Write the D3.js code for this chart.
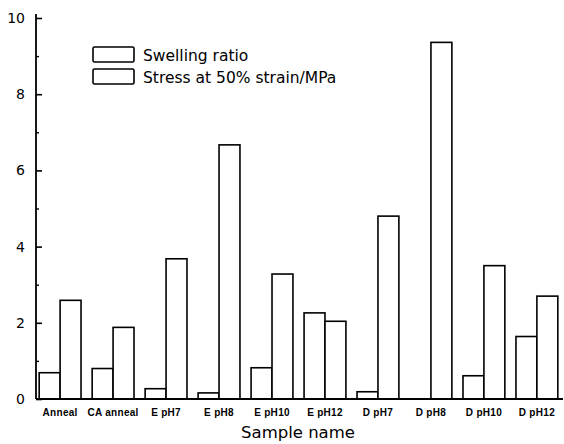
<!DOCTYPE html>
<meta charset="utf-8">
<script src="https://cdn.jsdelivr.net/npm/d3@7"></script>
<style>
    body { margin: 0; background: #fff; }
    .bar { fill: #fff; stroke: #000; stroke-width: 1.6px; }
</style>
<div id="chart"></div>
<script>
    var samples = ["Anneal", "CA anneal", "E pH7", "E pH8", "E pH10", "E pH12",
        "D pH7", "D pH8", "D pH10", "D pH12"];
    var swellingRatio = [0.69, 0.80, 0.27, 0.16, 0.82, 2.26, 0.19, 0.0, 0.61, 1.64];
    var stress = [2.59, 1.88, 3.68, 6.67, 3.28, 2.04, 4.80, 9.36, 3.50, 2.70];
    var seriesNames = ["Swelling ratio", "Stress at 50% strain/MPa"];
    var majorTicks = [0, 2, 4, 6, 8, 10];
    var minorTicks = [1, 3, 5, 7, 9];

    var width = 564, height = 444;
    var plotLeft = 36, plotBottom = 399, plotTop = 18;

    var svg = d3.select("#chart").append("svg")
        .attr("width", width)
        .attr("height", height)
        .style("font-family", "'DejaVu Sans', sans-serif");

    var x = d3.scaleBand()
        .domain(samples)
        .range([plotLeft, 561])
        .paddingInner(0.21)
        .paddingOuter(0.06);

    var xs = d3.scaleBand()
        .domain([0, 1])
        .range([0, x.bandwidth()]);

    var y = d3.scaleLinear()
        .domain([0, 10])
        .range([plotBottom, plotTop]);

    // bars
    var groups = svg.append("g").selectAll("g")
        .data(samples)
        .enter().append("g")
        .attr("transform", function(d) { return "translate(" + x(d) + ",0)"; });

    groups.selectAll("rect")
        .data(function(d, i) { return [swellingRatio[i], stress[i]]; })
        .enter().append("rect")
        .attr("class", "bar")
        .attr("x", function(d, j) { return xs(j); })
        .attr("width", xs.bandwidth())
        .attr("y", function(d) { return y(d); })
        .attr("height", function(d) { return plotBottom - y(d); })
        .style("display", function(d) { return d > 0 ? null : "none"; });

    // y axis
    var yAxis = svg.append("g")
        .attr("transform", "translate(" + plotLeft + ",0)")
        .call(d3.axisRight(y).tickValues(majorTicks).tickSize(6).tickFormat(""));
    yAxis.select(".domain").attr("d", "M0," + (plotTop - 4) + "V" + plotBottom).attr("stroke-width", 1.8);
    yAxis.selectAll(".tick line").attr("stroke-width", 1.6);

    var yMinor = svg.append("g")
        .attr("transform", "translate(" + plotLeft + ",0)")
        .call(d3.axisRight(y).tickValues(minorTicks).tickSize(3).tickFormat(""));
    yMinor.select(".domain").remove();
    yMinor.selectAll(".tick line").attr("stroke-width", 1.4);

    svg.append("g").selectAll("text")
        .data(majorTicks)
        .enter().append("text")
        .attr("x", 25)
        .attr("y", function(d) { return y(d) + 5; })
        .attr("text-anchor", "end")
        .style("font-size", "14px")
        .text(function(d) { return d; });

    // x axis
    var xAxis = svg.append("g")
        .attr("transform", "translate(0," + plotBottom + ")")
        .call(d3.axisBottom(x).tickSize(0).tickPadding(9));
    xAxis.select(".domain").attr("d", "M" + plotLeft + ",0H563").attr("stroke-width", 1.8);
    xAxis.selectAll(".tick text")
        .attr("dy", null)
        .attr("y", 17)
        .style("font-size", "10px")
        .style("font-weight", "bold")
        .style("letter-spacing", "0.3px")
        .style("font-family", "'Liberation Sans', Arial, sans-serif");

    svg.append("text")
        .attr("x", 298)
        .attr("y", 438)
        .attr("text-anchor", "middle")
        .style("font-size", "16.5px")
        .text("Sample name");

    // legend
    var legend = svg.append("g").selectAll("g")
        .data(seriesNames)
        .enter().append("g")
        .attr("transform", function(d, i) { return "translate(93," + (47 + i * 22) + ")"; });
    legend.append("rect")
        .attr("class", "bar")
        .attr("width", 41)
        .attr("height", 15)
        .attr("rx", 1.5);
    legend.append("text")
        .attr("x", 50)
        .attr("y", 14)
        .style("font-size", "15.5px")
        .text(function(d) { return d; });
</script>
